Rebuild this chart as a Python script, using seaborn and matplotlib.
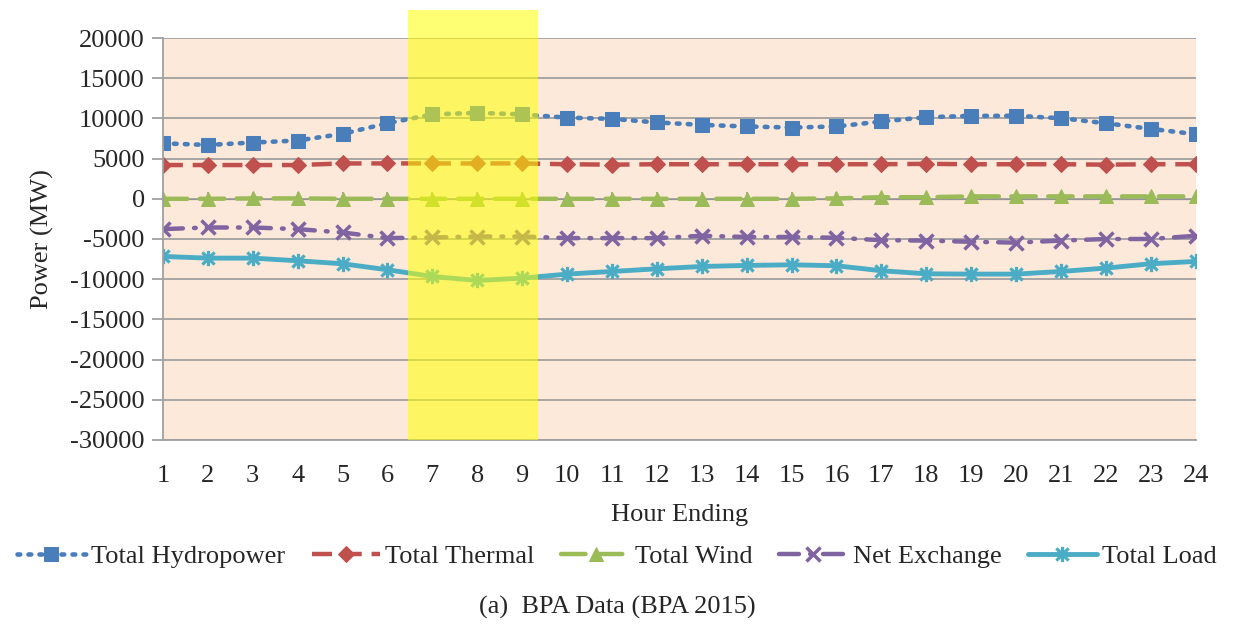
import numpy as np
import pandas as pd
import matplotlib
matplotlib.use("Agg")
import matplotlib.pyplot as plt
from matplotlib.path import Path
import seaborn as sns

hours = list(range(1, 25))
hydropower = [6900, 6700, 7000, 7250, 8080, 9400, 10500, 10700, 10500, 10100, 9950, 9500,
              9200, 9000, 8870, 9000, 9620, 10150, 10320, 10320, 10030, 9400, 8700, 8040]
thermal = [4200, 4200, 4200, 4200, 4400, 4400, 4400, 4400, 4400, 4300, 4250, 4300,
           4300, 4300, 4300, 4300, 4300, 4350, 4300, 4300, 4300, 4250, 4300, 4300]
wind = [0, 0, 50, 50, 0, 0, 0, 0, 0, 0, 0, 0,
        0, 0, 0, 50, 200, 200, 300, 300, 300, 300, 300, 300]
net_exchange = [-3770, -3570, -3570, -3770, -4190, -4890, -4810, -4690, -4690, -4890, -4890, -4890,
                -4600, -4750, -4750, -4850, -5150, -5200, -5350, -5450, -5200, -5000, -5000, -4600]
load = [-7170, -7380, -7380, -7710, -8080, -8830, -9660, -10160, -9870, -9370, -9040, -8710,
        -8420, -8290, -8210, -8330, -8950, -9330, -9370, -9370, -9040, -8620, -8080, -7790]
series_names = ["Total Hydropower", "Total Thermal", "Total Wind", "Net Exchange", "Total Load"]
y_ticks = list(range(-30000, 20001, 5000))
highlight = (6.45, 9.35)

df = pd.DataFrame({
    "hour": hours * 5,
    "power": hydropower + thermal + wind + net_exchange + load,
    "series": sum([[n] * 24 for n in series_names], []),
})

sns.set_style("white")
plt.rcParams["font.family"] = ["Liberation Serif", "DejaVu Serif"]
plt.rcParams["axes.unicode_minus"] = False

FS = 19

fig = plt.figure(figsize=(12.34, 6.24), dpi=100)
ax = fig.add_axes([0.132, 0.295, 0.837, 0.644])
ax.set_facecolor("#FDE9D9")

star = Path([(-1, -1), (1, 1), (-1, 1), (1, -1), (0, -1.25), (0, 1.25)],
            [Path.MOVETO, Path.LINETO, Path.MOVETO, Path.LINETO, Path.MOVETO, Path.LINETO])

styles = {
    "Total Hydropower": dict(color="#4A7EBB", linestyle=(0, (0.6, 1.8)), marker="s", markersize=10,
                             dash_capstyle="round", lw=3.3),
    "Total Thermal": dict(color="#C0504D", linestyle=(0, (4.5, 2.2)), marker="D", markersize=8, lw=3.2),
    "Total Wind": dict(color="#9BBB59", linestyle=(0, (5.5, 2.8)), marker="^", markersize=10, lw=3.2,
                       dash_capstyle="round"),
    "Net Exchange": dict(color="#8064A2", linestyle=(0, (4.5, 2.5, 0.4, 2.5)), marker="x", markersize=10,
                         markeredgewidth=2.5, lw=3.2, dash_capstyle="round"),
    "Total Load": dict(color="#4BACC6", linestyle="-", marker=star, markersize=11,
                       markeredgewidth=2.3, lw=3.5),
}

for name in series_names:
    st = dict(styles[name])
    sub = df[df["series"] == name]
    sns.lineplot(data=sub, x="hour", y="power", ax=ax, label=name,
                 markeredgecolor=st["color"], **st)

ax.set_xlim(1, 24)
ax.set_ylim(-30000, 20000)
ax.set_yticks(y_ticks)
ax.set_xticks(hours)
ax.yaxis.grid(True, color="#A0A0A0", lw=1.3)
ax.xaxis.grid(False)
ax.set_axisbelow(True)
for s in ["top", "right"]:
    ax.spines[s].set_visible(False)
for s in ["left", "bottom"]:
    ax.spines[s].set_color("#A0A0A0")
    ax.spines[s].set_linewidth(1.3)
ax.tick_params(axis="y", which="major", left=True, length=8, width=1.3, color="#A0A0A0",
               labelsize=FS, pad=5)
ax.tick_params(axis="x", which="major", bottom=False, length=0, labelsize=FS, pad=18)

sec = ax.secondary_xaxis(0.6)
sec.set_xticks(hours)
sec.set_xticklabels([])
sec.tick_params(axis="x", direction="out", length=5, width=1.3, color="#A0A0A0")
sec.spines["bottom"].set_color("#A0A0A0")
sec.spines["bottom"].set_linewidth(1.3)

ax.axvspan(highlight[0], highlight[1], ymin=0, ymax=1 + 28 / 402, color="#FFFF00", alpha=0.55,
           lw=0, clip_on=False, zorder=5)

ax.set_xlabel("Hour Ending", fontsize=FS, labelpad=12)
ax.set_ylabel("Power (MW)", fontsize=FS, labelpad=12)

handles, labels = ax.get_legend_handles_labels()
ax.get_legend().remove()
fig.legend(handles, labels, loc="center", bbox_to_anchor=(0.5, 0.108), ncol=5, frameon=False,
           fontsize=FS, handlelength=2.6, columnspacing=1.0, handletextpad=0.2)

fig.text(0.5, 0.026, "(a)  BPA Data (BPA 2015)", ha="center", va="center", fontsize=FS)

fig.savefig("out.png", dpi=100)
